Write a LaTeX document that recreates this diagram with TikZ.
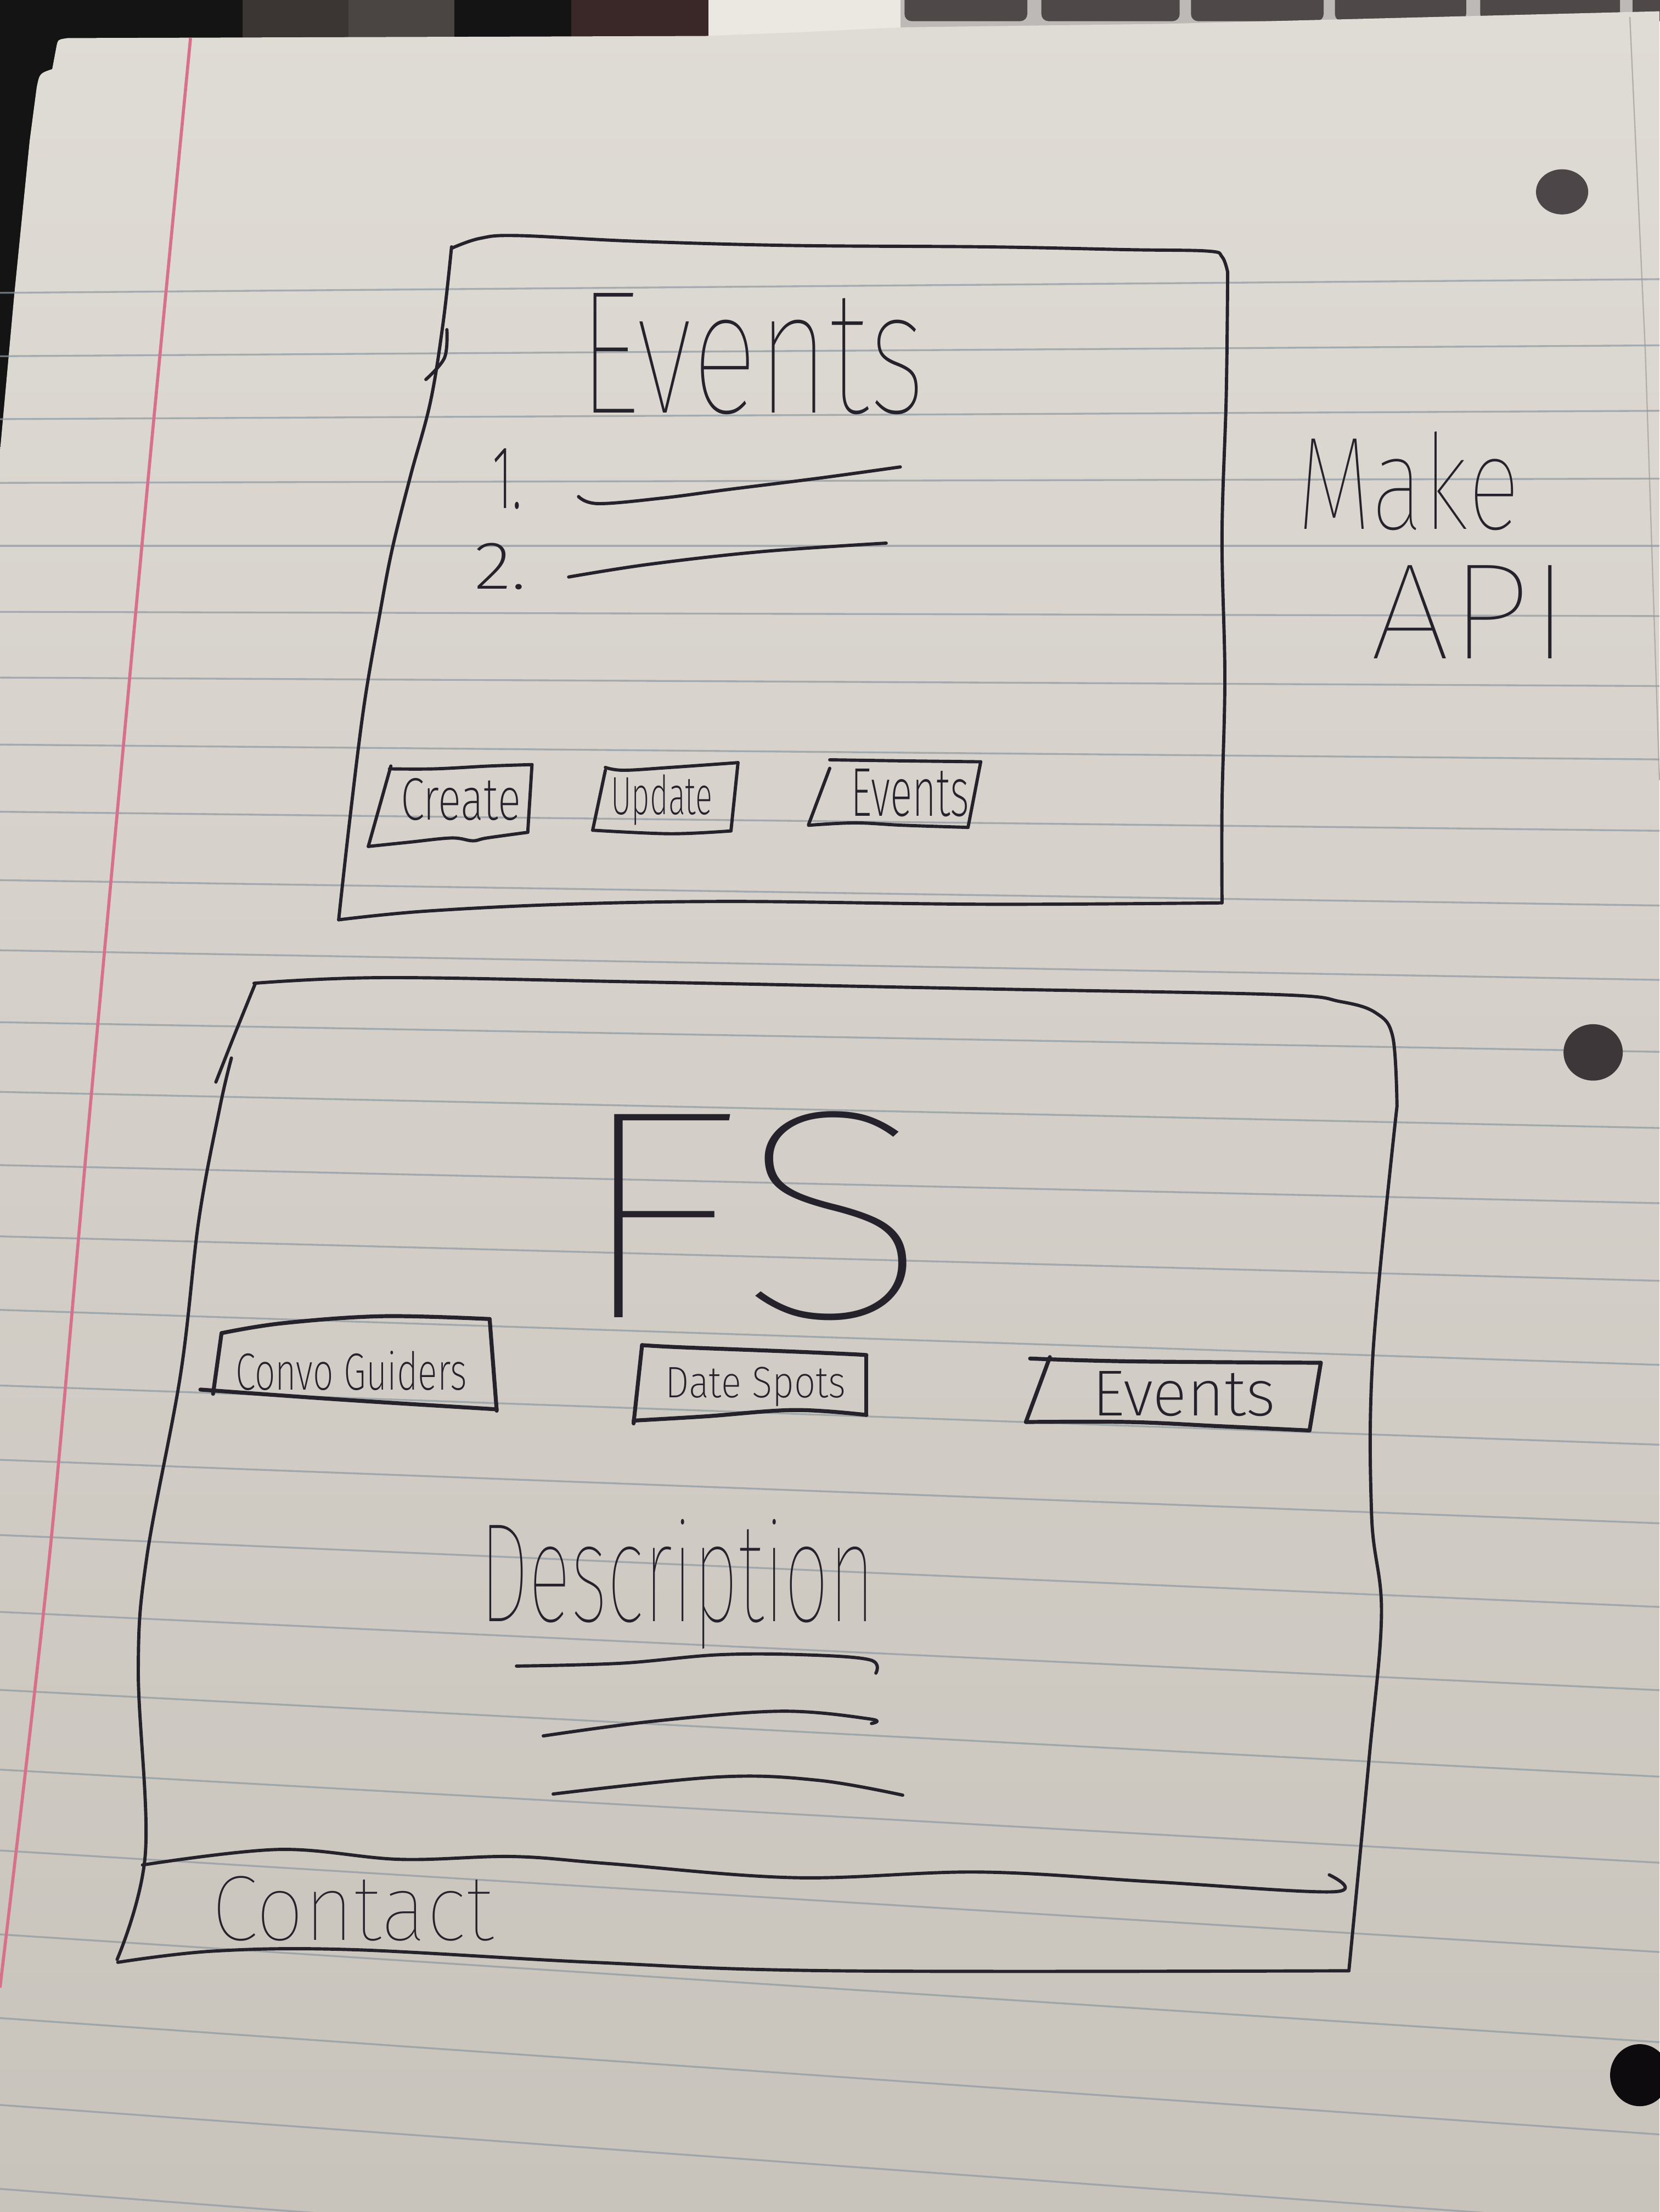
\documentclass[tikz,border=0pt]{standalone}
\usepackage{fontspec}
\usepackage{graphicx}
% hairline pen: lightest cut that is installed
\IfFontExistsTF{Fira Sans Thin}
  {\newfontfamily\penthin{Fira Sans Thin}}
  {\IfFontExistsTF{Poppins Thin}
    {\newfontfamily\penthin{Poppins Thin}}
    {\IfFontExistsTF{Lato Hairline}
      {\newfontfamily\penthin{Lato Hairline}}
      {\IfFontExistsTF{DejaVu Sans ExtraLight}
        {\newfontfamily\penthin{DejaVu Sans ExtraLight}}
        {\newfontfamily\penthin{DejaVu Sans}}}}}
% fine-liner pen for the small labels
\IfFontExistsTF{Fira Sans ExtraLight}
  {\newfontfamily\penlight{Fira Sans ExtraLight}}
  {\IfFontExistsTF{Poppins ExtraLight}
    {\newfontfamily\penlight{Poppins ExtraLight}}
    {\IfFontExistsTF{Lato Light}
      {\newfontfamily\penlight{Lato Light}}
      {\IfFontExistsTF{DejaVu Sans ExtraLight}
        {\newfontfamily\penlight{DejaVu Sans ExtraLight}}
        {\newfontfamily\penlight{DejaVu Sans}}}}}
% handwritten word squeezed into a given width and total height
\newcommand{\scrawl}[4]{{#1\resizebox*{#2}{#3}{#4}}}

\definecolor{inkc}{HTML}{26222C}
\definecolor{rulec}{HTML}{8E99A0}
\definecolor{marginc}{HTML}{D8708C}
\definecolor{papertop}{HTML}{DFDBD5}
\definecolor{paperbot}{HTML}{C8C3BB}
\definecolor{keyc}{HTML}{4F4849}
\definecolor{keygap}{HTML}{BDB9B6}
\definecolor{clothA}{HTML}{3B3533}
\definecolor{clothB}{HTML}{4A4442}
\definecolor{clothC}{HTML}{3A2828}
\definecolor{wallc}{HTML}{EBE8E1}
\definecolor{sheetedge}{HTML}{B4AEA7}
\definecolor{holeA}{HTML}{4D4648}
\definecolor{holeB}{HTML}{3D3739}
\definecolor{holeC}{HTML}{0D0B0D}

\tikzset{
  ink/.style={draw=inkc, line width=2.3pt, line cap=round, line join=round},
  thickink/.style={ink, line width=2.8pt},
  rule/.style={draw=rulec, line width=1.3pt, opacity=0.7},
  word/.style={inner sep=0pt, outer sep=0pt, text=inkc, anchor=center},
  smoothpen/.style={smooth, tension=0.6}
}

\begin{document}
\begin{tikzpicture}[x=1pt, y=-1pt]
\useasboundingbox (0,0) rectangle (1176,1568);

% --- surroundings behind the sheet ---
\fill[black!92] (0,0) rectangle (1176,1568);
\fill[clothA] (172,0) rectangle (247,34);
\fill[clothB] (247,0) rectangle (322,34);
\fill[clothC] (405,0) rectangle (502,34);
\fill[wallc] (502,0) rectangle (640,34);
\fill[keygap] (638,0) rectangle (1176,30);
\foreach \l/\r in {641/728, 738/836, 844/938, 946/1039, 1049/1148, 1157/1200}
  \fill[keyc, rounded corners=5pt] (\l,-10) rectangle (\r,15);

% --- the sheet of paper ---
\shade[top color=papertop, bottom color=paperbot]
  (0,320) -- (10,210) -- (21,100) -- (26,62) .. controls (28,52) .. (37,49)
  -- (40,33) .. controls (41,28) .. (48,27) -- (500,25.5) -- (570,22.7)
  -- (638,19.4) -- (825,16.9) -- (1176,8) -- (1176,1568) -- (0,1568) -- cycle;
\draw[sheetedge, line width=0.9pt] (1155,12) -- (1166,250) -- (1176,553);

% ruled lines
\foreach \a/\b in {207.6/197.9, 252.5/244.8, 297.1/291.2, 342.3/339.3, 387/387,
  433.7/436.7, 480.3/486.3, 527.8/538.3, 575.4/588.9, 623.9/641.9, 673.6/694.6,
  724.6/745.6, 774/799.6, 825.9/852.9, 876.4/907.9, 928.5/967.5, 982.1/1024.1,
  1034.8/1079.8, 1088.1/1139.1, 1142.6/1198.1, 1197.9/1259.4, 1254.4/1320.4,
  1311.7/1383.7, 1371.2/1447.6, 1430.5/1513, 1492.1/1577.6, 1551.6/1641.6}
  \draw[rule] (0,\a) -- (1176,\b);

% margin line
\draw[marginc, line width=2.2pt] plot[smooth, tension=0.5] coordinates
  {(135,27) (104,350) (64,784) (35,1104) (0,1409)};

% punched holes
\fill[holeA] (1107,136) ellipse [x radius=18.5pt, y radius=16pt];
\fill[holeB] (1129,746) ellipse [x radius=21pt, y radius=20pt];
\fill[holeC] (1162,1471) ellipse [x radius=21pt, y radius=22pt];

% ===== upper screen: events list =====
\draw[ink] plot[smoothpen] coordinates {(320,176) (340,169) (367,167) (450,171) (560,174) (700,175) (800,177) (856,178) (866,182) (870,193)};
\draw[ink] plot[smoothpen] coordinates {(870,193) (869,280) (866,380) (868,480) (866,570) (866,640)};
\draw[ink] plot[smoothpen] coordinates {(866,640) (700,641) (520,639) (400,641) (300,646) (240,652)};
\draw[ink] plot[smoothpen] coordinates {(320,175) (314,229) (305,285) (291,337) (278,389) (269,436) (258,500) (248,580) (240,652)};
\draw[ink] plot[smoothpen] coordinates {(316.7,233.7) (315,253.6) (301.8,269)};

\node[word] (evtitle) at (533,251) {\scrawl{\penthin}{246pt}{86pt}{Events}};
\node[word] (num1) at (359.5,339.5) {\scrawl{\penlight}{21pt}{43pt}{1.}};
\node[word] (num2) at (354.5,401.5) {\scrawl{\penlight}{37pt}{33pt}{2.}};
\draw[ink] plot[smoothpen] coordinates {(410,352) (424,357) (470,353) (516,347) (580,339) (638,331)};
\draw[ink] plot[smoothpen] coordinates {(403,409) (460,400) (540,391) (628,385)};

% buttons
\draw[ink] plot[smoothpen] coordinates {(276,545) (308,545) (347,543) (377,542)};
\draw[ink] (377,542) -- (374,590);
\draw[ink] plot[smoothpen] coordinates {(374,590) (345,594) (335,596) (320,594) (290,597) (261,600)};
\draw[ink] (277,543) -- (261,600);
\node[word] (create) at (326.5,566.5) {\scrawl{\penlight}{85pt}{30pt}{Create}};

\draw[ink] plot[smoothpen] coordinates {(429,544) (442,546) (475,544) (523,540.6)};
\draw[ink] (523,540.6) -- (518,589);
\draw[ink] plot[smoothpen] coordinates {(518,589) (475,591) (420,588.5)};
\draw[ink] (429,546) -- (420,588.5);
\node[word] (update) at (469,567) {\scrawl{\penlight}{72pt}{36pt}{Update}};

\draw[ink] plot[smoothpen] coordinates {(588,538.6) (636,539.3) (695,540)};
\draw[ink] (695,540) -- (686,586.5);
\draw[ink] plot[smoothpen] coordinates {(686,586.5) (640,585) (606,583.3) (573,585)};
\draw[ink] (588,544.6) -- (573,584.5);
\node[word] (evbtn) at (645,562) {\scrawl{\penlight}{84pt}{34pt}{Events}};

% side note
\node[word] (make) at (998,341) {\scrawl{\penthin}{158pt}{70pt}{Make}};
\node[word] (api) at (1041.5,434) {\scrawl{\penthin}{141pt}{66pt}{API}};

% ===== lower screen: landing page =====
\draw[ink] plot[smoothpen] coordinates {(180,697) (272,693) (450,696) (700,701) (904,705) (950,710) (975,718) (987,735) (990,784)};
\draw[ink] plot[smoothpen] coordinates {(990,784) (973,959) (972,1074) (979,1144) (970,1249) (956,1396)};
\draw[ink] plot[smoothpen] coordinates {(956,1397) (591,1397) (420,1391) (249,1382) (152,1383) (83.5,1391)};
\draw[ink] plot[smoothpen] coordinates {(181,697) (166,734) (153,767)};
\draw[ink] plot[smoothpen] coordinates {(164,750) (156,784) (141,864) (128,974) (104,1104) (98,1184) (103,1314) (83,1389)};
\draw[ink] plot[smoothpen] coordinates {(101,1322) (197.5,1311) (283,1318) (363,1316) (431,1321) (563,1331) (694,1327) (819,1334) (945,1341) (942,1329)};

\node[word] (fs) at (532,862) {\scrawl{\penthin}{256pt}{148pt}{FS}};

\draw[thickink] plot[smoothpen] coordinates {(157,945) (200,938) (271,933) (347,935)};
\draw[thickink] (347,935) -- (352,1000);
\draw[thickink] plot[smoothpen] coordinates {(352,999) (240,992) (142,985)};
\draw[thickink] (157,945) -- (151,988);
\node[word] (convo) at (249,971.5) {\scrawl{\penlight}{164pt}{28pt}{Convo Guiders}};

\draw[thickink] plot[smoothpen] coordinates {(455,953.5) (482,955) (560,958) (605,960) (614,960.6)};
\draw[thickink] (614,960.6) -- (614,1003);
\draw[thickink] plot[smoothpen] coordinates {(614,1003) (563,999.5) (500,1004) (449,1007)};
\draw[thickink] (455,953.5) -- (449,1009);
\node[word] (datespots) at (535.5,983) {\scrawl{\penlight}{128pt}{28pt}{Date Spots}};

\draw[thickink] plot[smoothpen] coordinates {(730,963) (800,965) (936,966)};
\draw[thickink] (936,966) -- (928,1014);
\draw[thickink] plot[smoothpen] coordinates {(928,1014) (865,1011) (800,1008) (727,1008)};
\draw[thickink] (744,962) -- (727,1008);
\node[word] (evlink) at (839,988) {\scrawl{\penlight}{130pt}{32pt}{Events}};

\node[word] (descr) at (480,1123) {\scrawl{\penthin}{280pt}{92pt}{Description}};
\draw[ink] plot[smoothpen] coordinates {(366,1181) (440,1179) (509,1173) (570,1173) (616.5,1176.6) (620.7,1186)};
\draw[ink] plot[smoothpen] coordinates {(385,1230.5) (464,1220) (553.6,1213) (616.5,1218.5) (617.6,1221.7)};
\draw[ink] plot[smoothpen] coordinates {(392,1271.7) (509,1259.6) (580,1262) (639.7,1272.5)};

\node[word] (contact) at (250,1353) {\scrawl{\penthin}{200pt}{46pt}{Contact}};
\end{tikzpicture}
\end{document}
